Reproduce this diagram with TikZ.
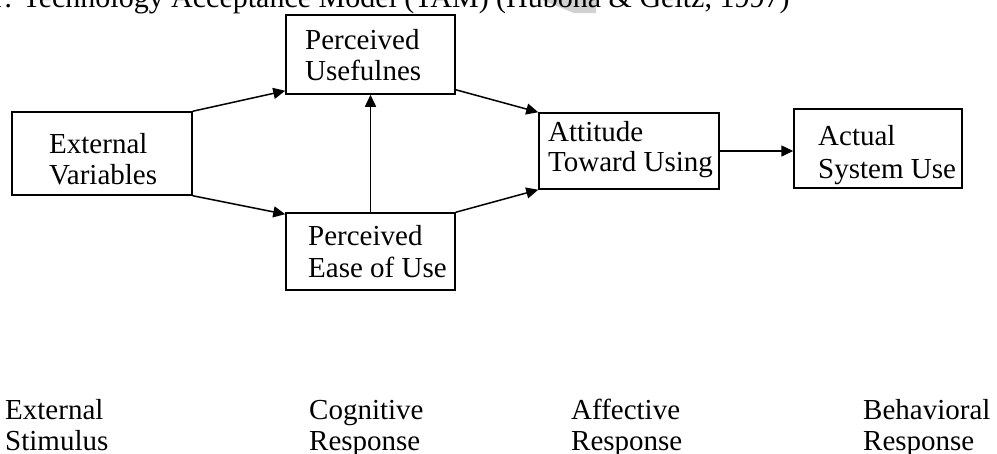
\documentclass[tikz,border=0pt]{standalone}
\usepackage{fontspec}
\setmainfont{Liberation Serif}
\usetikzlibrary{arrows.meta}
\newcommand\tstrut{\rule{0pt}{22pt}}
\begin{document}
\begin{tikzpicture}[x=1pt,y=-1pt,
  box/.style={draw,line width=1.5pt,inner sep=0pt,minimum width=#1},
  txt/.style={anchor=north west,inner sep=0pt,align=left,font=\fontsize{29}{31.5}\selectfont},
  arr/.style={line width=1.5pt,-{Triangle[length=12pt,width=11pt]}}]
\useasboundingbox (0,0) rectangle (997,453);
% grey highlight behind the title
\fill[black!18] (542,0) -- (596,0) -- (596,13) -- (574,13) -- cycle;
% title (partly cut off at top)
\node[anchor=base west,inner sep=0pt,font=\fontsize{30}{31}\selectfont] (title) at (-6,7) {r: Technology Acceptance Model (TAM) (Hubona \& Geitz, 1997)};
% boxes
\node[box=180pt,minimum height=83pt] (ev) at (102,153.5) {};
\node[box=169pt,minimum height=79pt] (pu) at (370.5,54.5) {};
\node[box=169pt,minimum height=77pt] (peu) at (370.5,251.5) {};
\node[box=180pt,minimum height=76pt] (att) at (629,151) {};
\node[box=168pt,minimum height=79pt] (asu) at (878,148.5) {};
% box texts
\node[txt] (evt) at (49,131) {\tstrut External\\Variables};
\node[txt] (put) at (305,27) {\tstrut Perceived\\Usefulnes};
\node[txt,font=\fontsize{29}{32}\selectfont] (peut) at (308,223) {\tstrut Perceived\\Ease of Use};
\node[txt,font=\fontsize{29}{30}\selectfont] (attt) at (548,119) {\tstrut Attitude\\Toward Using};
\node[txt,font=\fontsize{29}{33}\selectfont] (asut) at (818,123) {\tstrut Actual\\System Use};
% connectors
\draw[arr] (ev.north east) -- ([yshift=4pt]pu.south west);
\draw[arr] (ev.south east) -- ([yshift=-2pt]peu.north west);
\draw[arr] (peu.north) -- (pu.south);
\draw[arr] ([yshift=5pt]pu.south east) -- (att.north west);
\draw[arr] (peu.north east) -- (att.south west);
\draw[arr] (att.east) -- (att.east -| asu.west);
% bottom labels
\node[txt] (l1) at (5,397) {\tstrut External\\Stimulus};
\node[txt] (l2) at (309,397) {\tstrut Cognitive\\Response};
\node[txt] (l3) at (571,397) {\tstrut Affective\\Response};
\node[txt] (l4) at (863,397) {\tstrut Behavioral\\Response};
\end{tikzpicture}
\end{document}
